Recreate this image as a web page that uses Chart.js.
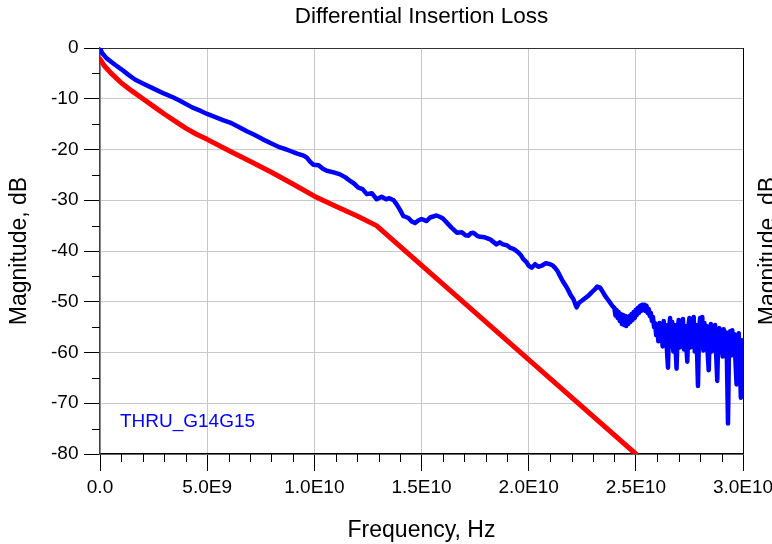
<!DOCTYPE html>
<html>
<head>
<meta charset="utf-8">
<script src="https://cdn.jsdelivr.net/npm/chart.js@4/dist/chart.umd.min.js"></script>
<style>
  html, body { margin: 0; padding: 0; background: #ffffff; }
  #c { display: block; }
</style>
</head>
<body>
<canvas id="c" width="772" height="544"></canvas>
<script>
// ---- Data (frequency in GHz, magnitude in dB) ----
const chartTitle = 'Differential Insertion Loss';
const xTitle = 'Frequency, Hz';
const yTitle = 'Magnitude, dB';
const traceLabel = 'THRU_G14G15';
const modelLabel = 'Model';
const freqTickLabels = ['0.0', '5.0E9', '1.0E10', '1.5E10', '2.0E10', '2.5E10', '3.0E10'];

const thruPoints = [
  [0, 0], [0.1, -1.0], [0.3, -2.0], [0.7, -3.3], [1.0, -4.2], [1.3, -5.2], [1.63, -6.2], [2.0, -7.0],
  [2.5, -8.0], [3.0, -9.0], [3.4, -9.7], [3.73, -10.4], [4.3, -11.7], [4.7, -12.4], [5.0, -13.0],
  [5.5, -13.8], [5.8, -14.3], [6.07, -14.7], [6.5, -15.6], [6.85, -16.4], [7.2, -17.1], [7.6, -18.0],
  [8.0, -18.8], [8.4, -19.6], [8.7, -20.0], [9.2, -20.8], [9.5, -21.2], [9.65, -21.6], [9.8, -22.4],
  [9.95, -23.0], [10.2, -23.1], [10.4, -23.8], [10.58, -24.2], [10.9, -24.5], [11.2, -24.9],
  [11.45, -25.5], [11.67, -26.2], [11.85, -26.7], [12.05, -27.5], [12.25, -27.8], [12.45, -28.8],
  [12.68, -28.6], [12.91, -29.8], [13.14, -29.3], [13.35, -29.8], [13.5, -29.6], [13.7, -30.0],
  [13.84, -30.8], [14.0, -31.9], [14.15, -33.1], [14.39, -33.5], [14.55, -34.2], [14.7, -34.5],
  [14.85, -34.0], [15.0, -33.7], [15.24, -34.1], [15.4, -33.4], [15.55, -33.2], [15.7, -33.0],
  [15.87, -33.3], [16.0, -33.6], [16.18, -34.4], [16.4, -35.4], [16.65, -36.4], [16.88, -36.3],
  [17.05, -36.9], [17.19, -37.0], [17.3, -36.5], [17.42, -36.4], [17.6, -37.0], [17.73, -37.2],
  [17.95, -37.3], [18.2, -37.7], [18.35, -38.2], [18.5, -38.7], [18.65, -38.3], [18.8, -38.7],
  [19.0, -38.9], [19.15, -39.4], [19.29, -39.6], [19.4, -39.9], [19.52, -40.3], [19.65, -40.9],
  [19.75, -41.6], [19.9, -42.2], [20.0, -42.9], [20.14, -43.3], [20.3, -42.6], [20.45, -43.1],
  [20.61, -42.9], [20.8, -42.4], [21.0, -42.6], [21.1, -42.8], [21.23, -43.3], [21.35, -44.0],
  [21.46, -44.9], [21.6, -46.0], [21.78, -47.2], [21.95, -48.6], [22.09, -49.5], [22.17, -50.4],
  [22.24, -51.1], [22.35, -50.2], [22.48, -49.8], [22.6, -49.4], [22.79, -48.8], [22.95, -48.1],
  [23.1, -47.5], [23.2, -47.0], [23.33, -47.2], [23.45, -48.0], [23.56, -48.8], [23.7, -49.6],
  [23.8, -50.2], [23.9, -50.8],
  [24.00, -51.2], [24.05, -52.7], [24.10, -51.6], [24.15, -53.2], [24.20, -52.0], [24.25, -53.8],
  [24.30, -52.4], [24.35, -54.4], [24.40, -52.6], [24.45, -54.6], [24.50, -52.8], [24.55, -54.8],
  [24.60, -53.0], [24.65, -54.4], [24.70, -52.8], [24.75, -54.0], [24.80, -52.4], [24.85, -53.6],
  [24.90, -52.0], [24.95, -53.2], [25.00, -51.6], [25.05, -52.6], [25.10, -51.2], [25.15, -52.2],
  [25.20, -50.8], [25.25, -51.8], [25.30, -50.6], [25.35, -51.6], [25.40, -50.6], [25.45, -51.8],
  [25.50, -50.8], [25.55, -52.2], [25.60, -51.4], [25.65, -52.8], [25.70, -52.2], [25.75, -53.8],
  [25.80, -53.0], [25.85, -55.0], [25.90, -54.2], [25.95, -56.6], [26.00, -54.6], [26.05, -57.8],
  [26.10, -54.2], [26.15, -57.6], [26.20, -54.8], [26.25, -58.8], [26.30, -53.8], [26.35, -58.4],
  [26.40, -54.6], [26.45, -59.4], [26.50, -63.0], [26.55, -55.2], [26.60, -53.2], [26.65, -58.8],
  [26.70, -54.0], [26.75, -59.8], [26.80, -54.6], [26.85, -58.6], [26.90, -63.2], [26.95, -56.2],
  [27.00, -53.6], [27.05, -59.0], [27.10, -54.2], [27.15, -57.8], [27.20, -53.4], [27.25, -59.4],
  [27.30, -54.8], [27.35, -58.2], [27.40, -61.8], [27.45, -55.0], [27.50, -53.2], [27.55, -59.0],
  [27.60, -53.6], [27.65, -58.2], [27.70, -53.0], [27.75, -59.8], [27.80, -54.6], [27.85, -59.0],
  [27.90, -66.6], [27.95, -55.6], [28.00, -53.2], [28.05, -58.8], [28.10, -53.0], [28.15, -59.6],
  [28.20, -54.2], [28.25, -58.4], [28.30, -54.8], [28.35, -60.0], [28.40, -63.5], [28.45, -56.0],
  [28.50, -54.4], [28.55, -59.8], [28.60, -55.4], [28.65, -58.6], [28.70, -54.6], [28.75, -60.6],
  [28.80, -65.6], [28.85, -55.6], [28.90, -55.2], [28.95, -60.0], [29.00, -55.8], [29.05, -60.8],
  [29.10, -55.4], [29.15, -59.6], [29.20, -56.0], [29.25, -61.4], [29.30, -74.0], [29.35, -57.6],
  [29.40, -55.8], [29.45, -60.6], [29.50, -55.6], [29.55, -59.8], [29.60, -56.4], [29.65, -61.8],
  [29.70, -66.3], [29.75, -57.0], [29.80, -56.2], [29.85, -61.4], [29.90, -68.9], [29.95, -57.6],
  [30.00, -59.5]
];

const modelPoints = [
  [0, -2.2], [0.2, -3.5], [0.5, -4.9], [1.0, -6.9], [1.5, -8.5], [2.0, -10.0], [2.5, -11.5],
  [3.0, -13.0], [3.5, -14.4], [4.0, -15.8], [4.5, -17.0], [5.0, -18.0], [6.0, -20.2], [7.0, -22.3],
  [8.0, -24.5], [9.0, -26.8], [10.0, -29.2], [11.0, -31.2], [12.0, -33.1], [12.9, -35.0],
  [15.1, -43.2], [20.0, -61.4], [25.0, -80.0]
];

// ---- Styling ----
const FONT = "'Liberation Sans', Arial, Helvetica, sans-serif";
const GRID = '#c8c8c8';

const minorTicks = {
  id: 'minorTicks',
  afterDraw(chart) {
    const {ctx, chartArea, scales} = chart;
    ctx.save();
    ctx.strokeStyle = '#000';
    ctx.lineWidth = 1;
    ctx.beginPath();
    const xs = scales.x, ys = scales.y;
    for (let v = xs.min; v <= xs.max; v += 1) {
      if (v % 5 === 0) continue;
      const px = Math.round(xs.getPixelForValue(v)) + 0.5;
      ctx.moveTo(px, chartArea.bottom);
      ctx.lineTo(px, chartArea.bottom + 8);
    }
    for (let v = ys.min; v <= ys.max; v += 5) {
      if (v % 10 === 0) continue;
      const py = Math.round(ys.getPixelForValue(v)) + 0.5;
      ctx.moveTo(chartArea.left - 8, py);
      ctx.lineTo(chartArea.left, py);
    }
    ctx.stroke();

    // trace label inside the plot
    const ds = chart.data.datasets[0];
    ctx.fillStyle = ds.borderColor;
    ctx.font = '19px ' + FONT;
    ctx.textAlign = 'left';
    ctx.textBaseline = 'middle';
    ctx.fillText(ds.label, xs.getPixelForValue(0.93), ys.getPixelForValue(-73.6));

    // mirrored axis title at the right edge
    ctx.fillStyle = '#000';
    ctx.font = '23px ' + FONT;
    ctx.translate(769, (chartArea.top + chartArea.bottom) / 2);
    ctx.rotate(-Math.PI / 2);
    ctx.textAlign = 'center';
    ctx.textBaseline = 'middle';
    ctx.fillText(yTitle, 0, 0);
    ctx.restore();
  }
};

new Chart(document.getElementById('c'), {
  type: 'line',
  data: {
    datasets: [
      {
        label: traceLabel,
        data: thruPoints.map(([x, y]) => ({x, y})),
        borderColor: '#0000ff',
        borderWidth: 4.5,
        pointRadius: 0,
        tension: 0,
        borderJoinStyle: 'round',
        borderCapStyle: 'round'
      },
      {
        label: modelLabel,
        data: modelPoints.map(([x, y]) => ({x, y})),
        borderColor: '#ff0000',
        borderWidth: 5,
        pointRadius: 0,
        tension: 0,
        borderJoinStyle: 'round',
        borderCapStyle: 'round'
      }
    ]
  },
  options: {
    responsive: false,
    animation: false,
    events: [],
    layout: { padding: { left: 0, right: 29, top: 0, bottom: 0 } },
    plugins: {
      legend: { display: false },
      tooltip: { enabled: false },
      title: {
        display: true,
        text: chartTitle,
        fullSize: false,
        color: '#000',
        font: { family: FONT, size: 22.5, weight: 'normal' },
        padding: { top: 3, bottom: 18 }
      }
    },
    scales: {
      x: {
        type: 'linear',
        min: 0,
        max: 30,
        afterFit: (s) => { s.height = 90; s.paddingLeft = 0; s.paddingRight = 0; },
        ticks: {
          stepSize: 5,
          autoSkip: false,
          maxRotation: 0,
          color: '#000',
          padding: 5,
          font: { family: FONT, size: 19 },
          callback: (v) => freqTickLabels[Math.round(v / 5)]
        },
        grid: {
          color: (c) => (c.tick && c.tick.value === 30 ? '#000' : GRID),
          lineWidth: 1,
          tickLength: 17,
          tickColor: '#000'
        },
        border: { color: '#000', width: 1.5 },
        title: {
          display: true,
          text: xTitle,
          color: '#000',
          font: { family: FONT, size: 23 },
          padding: { top: 2, bottom: 0 }
        }
      },
      y: {
        type: 'linear',
        min: -80,
        max: 0,
        afterFit: (s) => { s.width = 100; s.paddingTop = 0; s.paddingBottom = 0; },
        ticks: {
          stepSize: 10,
          color: '#000',
          padding: 5.5,
          font: { family: FONT, size: 19 }
        },
        grid: {
          color: (c) => (c.tick && c.tick.value === 0 ? '#333' : GRID),
          lineWidth: 1,
          tickLength: 16,
          tickColor: '#000'
        },
        border: { color: '#444', width: 1.5 },
        title: {
          display: true,
          text: yTitle,
          color: '#000',
          font: { family: FONT, size: 23 },
          padding: { top: 6, bottom: 0 }
        }
      }
    }
  },
  plugins: [minorTicks]
});
</script>
</body>
</html>
